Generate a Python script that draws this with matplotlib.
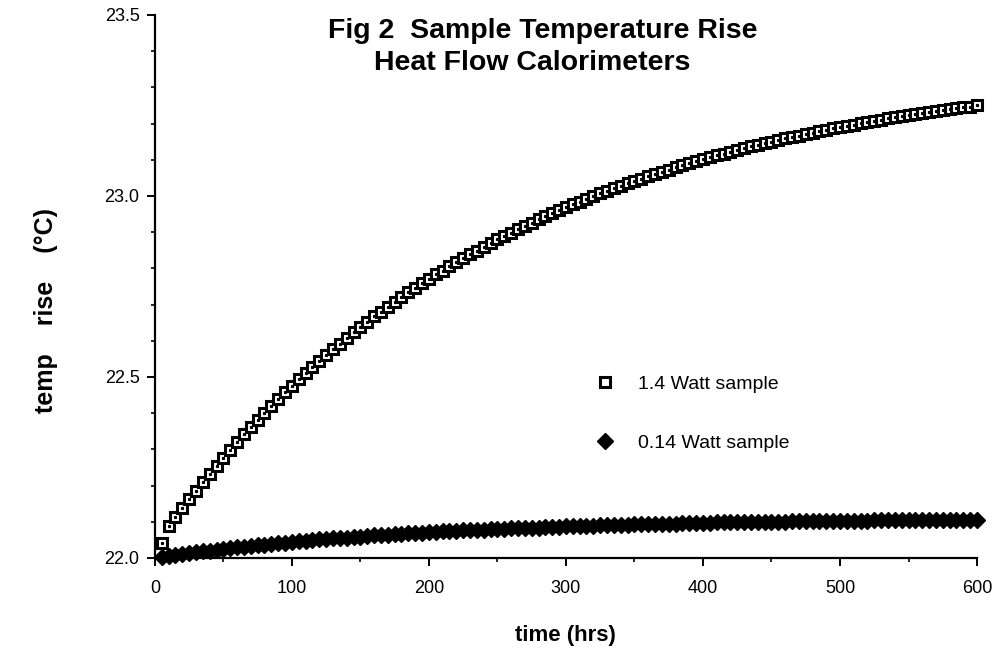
"""Sample temperature rise, heat flow calorimeters."""
import numpy as np
import matplotlib
matplotlib.use("Agg")
import matplotlib.pyplot as plt
from matplotlib.ticker import MultipleLocator, FormatStrFormatter

plt.rcParams["font.family"] = ["Liberation Sans", "DejaVu Sans"]

# readings every 5 hours
hours = np.arange(5, 601, 5)

temp_1_4w = [
    22.040, 22.087, 22.113, 22.138, 22.162, 22.186, 22.210, 22.233, 22.255, 22.277,
    22.299, 22.320, 22.341, 22.361, 22.381, 22.401, 22.420, 22.439, 22.457, 22.475,
    22.493, 22.511, 22.528, 22.544, 22.561, 22.577, 22.592, 22.608, 22.623, 22.638,
    22.652, 22.667, 22.680, 22.694, 22.708, 22.721, 22.734, 22.746, 22.759, 22.771,
    22.783, 22.794, 22.806, 22.817, 22.828, 22.839, 22.849, 22.859, 22.870, 22.880,
    22.889, 22.899, 22.908, 22.917, 22.926, 22.935, 22.944, 22.952, 22.960, 22.969,
    22.977, 22.984, 22.992, 23.000, 23.007, 23.014, 23.021, 23.028, 23.035, 23.042,
    23.048, 23.054, 23.061, 23.067, 23.073, 23.079, 23.085, 23.090, 23.096, 23.101,
    23.107, 23.112, 23.117, 23.122, 23.127, 23.132, 23.137, 23.141, 23.146, 23.150,
    23.155, 23.159, 23.163, 23.167, 23.171, 23.175, 23.179, 23.183, 23.187, 23.190,
    23.194, 23.197, 23.201, 23.204, 23.207, 23.211, 23.214, 23.217, 23.220, 23.223,
    23.226, 23.229, 23.232, 23.234, 23.237, 23.240, 23.242, 23.245, 23.247, 23.250,
]

temp_0_14w = [
    22.003, 22.006, 22.008, 22.011, 22.013, 22.016, 22.018, 22.020, 22.023, 22.025,
    22.027, 22.029, 22.031, 22.033, 22.035, 22.037, 22.039, 22.041, 22.042, 22.044,
    22.046, 22.047, 22.049, 22.051, 22.052, 22.054, 22.055, 22.056, 22.058, 22.059,
    22.060, 22.062, 22.063, 22.064, 22.065, 22.066, 22.068, 22.069, 22.070, 22.071,
    22.072, 22.073, 22.074, 22.075, 22.076, 22.077, 22.077, 22.078, 22.079, 22.080,
    22.081, 22.082, 22.082, 22.083, 22.084, 22.084, 22.085, 22.086, 22.086, 22.087,
    22.088, 22.088, 22.089, 22.089, 22.090, 22.091, 22.091, 22.092, 22.092, 22.093,
    22.093, 22.094, 22.094, 22.094, 22.095, 22.095, 22.096, 22.096, 22.097, 22.097,
    22.097, 22.098, 22.098, 22.098, 22.099, 22.099, 22.099, 22.099, 22.100, 22.100,
    22.100, 22.100, 22.101, 22.101, 22.101, 22.102, 22.102, 22.102, 22.102, 22.102,
    22.103, 22.103, 22.103, 22.103, 22.104, 22.104, 22.104, 22.104, 22.104, 22.104,
    22.105, 22.105, 22.105, 22.105, 22.105, 22.105, 22.106, 22.106, 22.106, 22.106,
]

fig = plt.figure(figsize=(9.99, 6.51), dpi=100)
ax = fig.add_axes([0.155, 0.143, 0.823, 0.834])

ax.plot(hours, temp_1_4w, linestyle="none", marker="s", ms=7.5,
        mfc="white", mec="black", mew=2.2, clip_on=False,
        label="1.4 Watt sample")
ax.plot(hours, temp_1_4w, linestyle="none", marker="s", ms=1.3,
        color="black", clip_on=False)
ax.plot(hours, temp_0_14w, linestyle="none", marker="D", ms=8,
        color="black", clip_on=False, label="0.14 Watt sample")

ax.set_xlim(0, 600)
ax.set_ylim(22.0, 23.5)
ax.xaxis.set_major_locator(MultipleLocator(100))
ax.xaxis.set_minor_locator(MultipleLocator(50))
ax.yaxis.set_major_locator(MultipleLocator(0.5))
ax.yaxis.set_minor_locator(MultipleLocator(0.1))
ax.yaxis.set_major_formatter(FormatStrFormatter("%.1f"))

for side in ("top", "right"):
    ax.spines[side].set_visible(False)
ax.spines["left"].set_linewidth(1.6)
ax.spines["bottom"].set_linewidth(1.6)
ax.tick_params(which="major", length=6, width=1.4, labelsize=13)
ax.tick_params(axis="x", which="major", pad=10)
ax.tick_params(axis="y", which="major", pad=5)
ax.tick_params(which="minor", length=3, width=1.2)

ax.set_xlabel("time (hrs)", fontsize=16, fontweight="bold", labelpad=20)
ax.set_ylabel("temp    rise    (°C)", fontsize=18, fontweight="bold")
ax.yaxis.set_label_coords(-0.118, 0.455)

fig.text(0.543, 0.953, "Fig 2  Sample Temperature Rise", ha="center",
         va="center", fontsize=20.5, fontweight="bold")
fig.text(0.533, 0.903, "Heat Flow Calorimeters", ha="center",
         va="center", fontsize=20.5, fontweight="bold")

ax.legend(loc="upper left", bbox_to_anchor=(0.578, 0.45),
          bbox_transform=fig.transFigure, frameon=False, fontsize=14,
          labelspacing=2.1, handletextpad=1.2, handlelength=1.0)

fig.savefig("out.png", dpi=100)
